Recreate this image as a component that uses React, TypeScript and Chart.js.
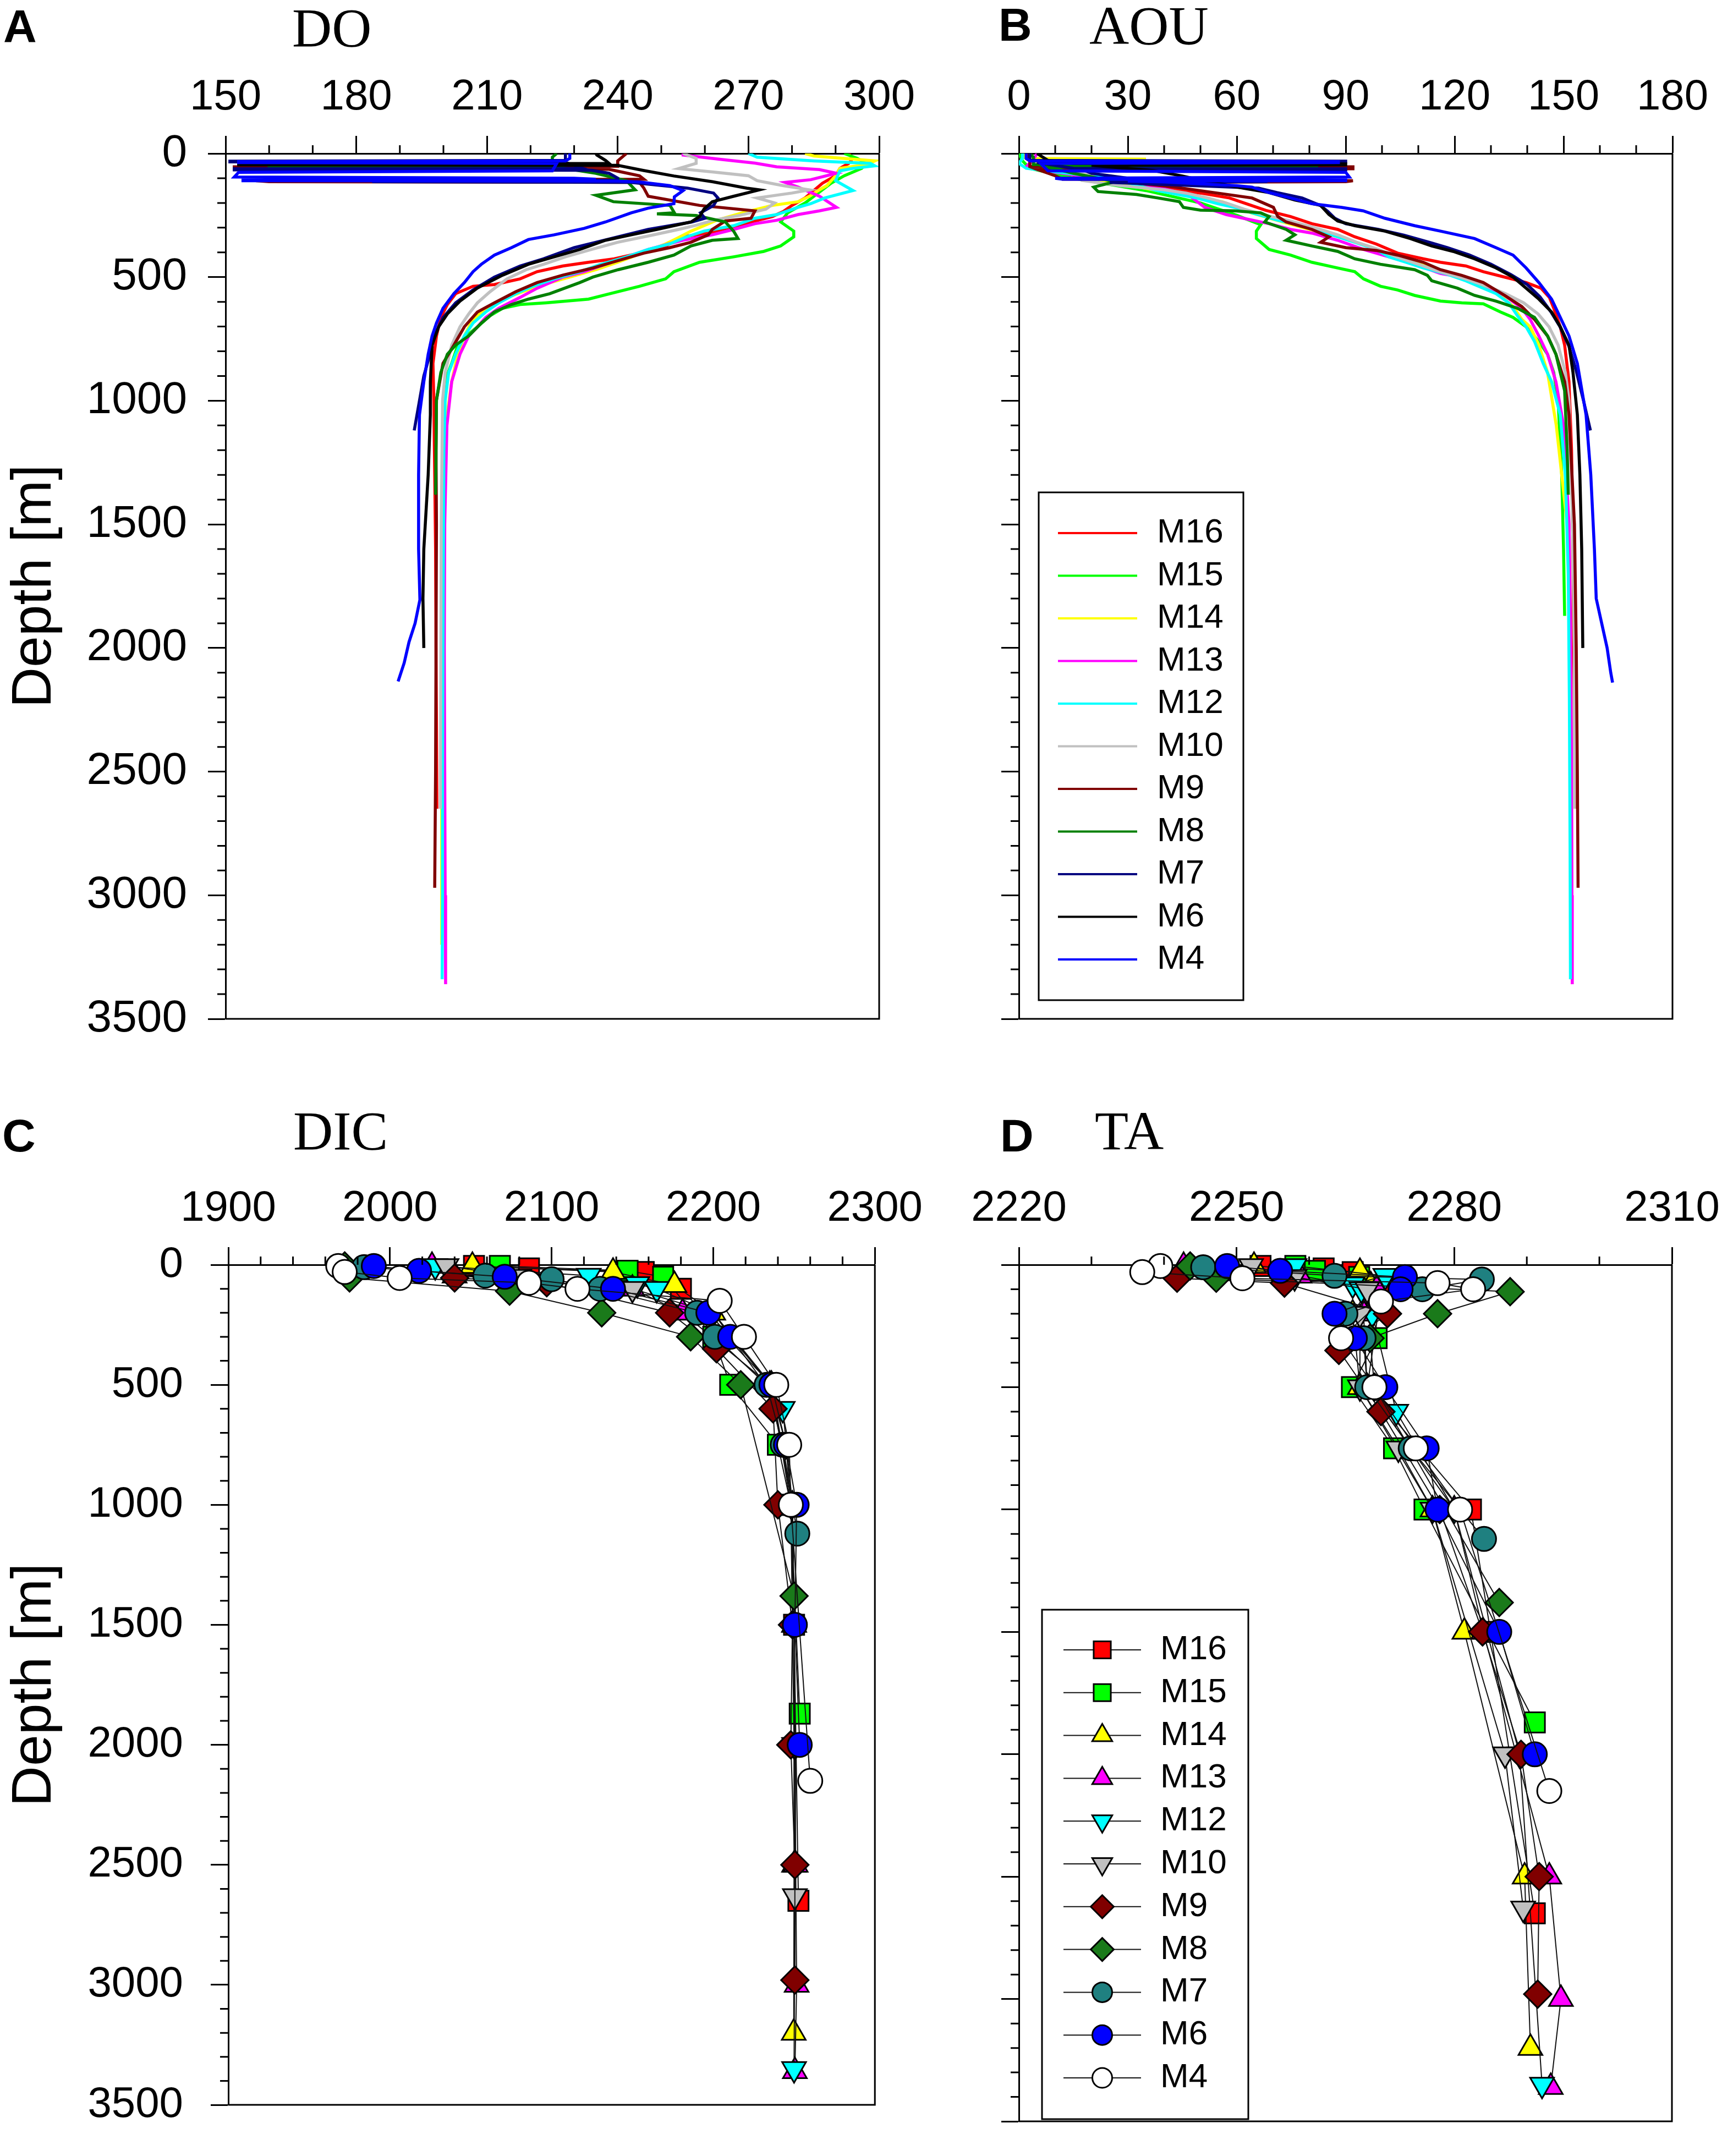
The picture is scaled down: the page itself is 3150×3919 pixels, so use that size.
import { useEffect, useRef } from "react";
import { Chart, registerables } from "chart.js";
import { drawPoint } from "chart.js/helpers";

Chart.register(...registerables);

type Pair = [number, number];

const SANS = '"Liberation Sans", Arial, Helvetica, sans-serif';
const SERIF = '"Liberation Serif", "Times New Roman", serif';

Chart.defaults.font.family = SANS;
Chart.defaults.color = "#000";

const stations = ["M16", "M15", "M14", "M13", "M12", "M10", "M9", "M8", "M7", "M6", "M4"];

// axis ranges
const depthRange = { min: 0, max: 3500, step: 500, minor: 100 };
const doRange = { min: 150, max: 300, step: 30, minor: 10 };
const aouRange = { min: 0, max: 180, step: 30, minor: 10 };
const dicRange = { min: 1900, max: 2300, step: 100, minor: 20 };
const taRange = { min: 2220, max: 2310, step: 30, minor: 10 };

// DO profiles: [depth (m), DO]
const doM16: Pair[] = [[0, 293], [20, 294], [40, 293], [60, 291], [90, 290], [120, 287], [150, 285], [180, 283], [210, 280], [235, 278], [255, 275.5], [277, 270.6], [299, 265.7], [322, 260.8], [337, 254.9], [374, 251], [403, 245], [426, 239.2], [440, 233.3], [455, 227.4], [478, 221.5], [507, 217.6], [530, 211.7], [537, 206.8], [567, 202.8], [611, 200.9], [663, 199.4], [738, 198.4], [849, 197.6], [1000, 197.8], [1300, 198], [1600, 198.2], [2000, 198.3], [2300, 198.4], [2650, 198.5]];
const doM15: Pair[] = [[0, 292], [20, 295], [40, 297], [60, 296], [90, 292], [120, 289], [160, 286], [200, 283], [240, 279], [277, 277.4], [314, 280.4], [337, 280.4], [374, 277.4], [396, 273.5], [418, 266.6], [440, 258.8], [478, 252.9], [507, 251], [537, 245], [567, 238.2], [589, 233.3], [604, 223.5], [611, 217.6], [626, 213.6], [656, 210.7], [701, 207.8], [745, 204.8], [775, 203.3], [849, 201.9], [894, 200.9], [1000, 200.3], [1200, 199.9], [1500, 199.7], [1870, 199.6]];
const doM14: Pair[] = [[0, 283], [10, 285], [20, 292], [30, 299], [45, 297], [60, 291], [90, 290], [130, 288], [150, 286], [173, 284], [195, 281.4], [210, 275.5], [240, 268.6], [270, 262.7], [292, 259.8], [314, 256.8], [340, 254], [366, 251], [400, 246], [440, 240], [470, 235], [500, 229], [530, 223], [560, 218], [590, 213.6], [630, 209.7], [670, 206.8], [738, 204.8], [812, 203.3], [923, 201.9], [1100, 200.5], [1500, 200], [2000, 199.8], [2500, 199.6], [3200, 199.6]];
const doM13: Pair[] = [[0, 255], [6, 255], [24, 263.7], [39, 271.5], [54, 276.5], [65, 286.3], [80, 290.2], [106, 284.3], [117, 278.4], [136, 281.4], [173, 286.3], [218, 290.2], [232, 286.3], [247, 281.4], [270, 276.5], [284, 271.5], [307, 266.6], [329, 261.7], [351, 254.9], [388, 247], [418, 242.1], [448, 237.2], [478, 232.3], [500, 227.4], [545, 221.5], [582, 217.6], [626, 212.7], [663, 209.7], [701, 207.8], [738, 205.8], [812, 203.8], [923, 201.9], [1100, 200.8], [1500, 200.3], [2000, 200.2], [2500, 200.3], [3000, 200.4], [3360, 200.5]];
const doM12: Pair[] = [[0, 270], [15, 272], [30, 285], [40, 298], [50, 299], [60, 294], [70, 291], [110, 290], [150, 294], [180, 287.5], [203, 284.3], [218, 281.4], [247, 276.5], [262, 271.5], [292, 266.6], [314, 259.8], [337, 255.8], [366, 251.9], [388, 247], [418, 242.1], [448, 236.2], [478, 231.3], [507, 225.4], [537, 220.5], [567, 216.6], [604, 212.7], [641, 209.7], [686, 206.8], [738, 204.8], [812, 202.8], [886, 201.2], [998, 200.4], [1200, 200.1], [1600, 200], [2000, 199.9], [2500, 199.8], [3000, 199.8], [3340, 199.7]];
const doM10: Pair[] = [[0, 255], [20, 258], [40, 258], [61, 254], [75, 262], [90, 270], [110, 272], [130, 278], [147, 284], [160, 280], [180, 272], [200, 276], [225, 274], [250, 268], [270, 262], [290, 258], [307, 254], [330, 248], [359, 240], [388, 234], [418, 228], [448, 223], [470, 219], [507, 214.6], [559, 210.7], [604, 207.8], [649, 205.8], [701, 203.8], [775, 201.9], [886, 200.4], [1000, 199.8], [1500, 199.5], [2000, 199.4], [2650, 199.3]];
const doM9: Pair[] = [[0, 242], [30, 240], [52, 240], [54, 152], [62, 152], [64, 238], [90, 245], [104, 246], [106, 190], [110, 157], [114, 160], [117, 245], [140, 246], [173, 247], [210, 258.8], [232, 271.5], [262, 270.6], [273, 264.7], [307, 261.7], [329, 260.8], [359, 256.8], [381, 251.9], [403, 246], [433, 240.1], [463, 234.3], [492, 227.4], [522, 221.5], [559, 216.6], [604, 211.7], [641, 207.8], [701, 204.8], [775, 202.4], [849, 199.9], [998, 198.4], [1200, 198.3], [1500, 198.4], [2000, 198.3], [2500, 198.2], [2970, 198]];
const doM8: Pair[] = [[0, 226], [15, 225], [45, 225], [48, 160], [52, 160], [55, 226], [80, 235], [110, 242], [147, 244], [169, 235], [195, 239], [210, 252], [240, 253], [244, 249], [251, 258], [277, 264.7], [314, 266.6], [344, 267.6], [351, 261.7], [374, 256.8], [411, 252.9], [440, 247], [470, 240.1], [500, 234.3], [522, 231.3], [567, 224.4], [589, 219.5], [611, 215.6], [641, 211.7], [686, 208.7], [738, 205.8], [775, 202.8], [812, 200.9], [886, 199.4], [998, 198.4], [1200, 198.3], [1380, 198.2]];
const doM7: Pair[] = [[0, 228], [28, 228], [31, 151], [34, 151], [36, 228], [60, 232], [62, 152], [66, 152], [68, 234], [80, 238], [100, 240], [108, 240], [110, 184], [114, 184], [117, 243], [140, 256], [160, 262], [180, 263], [210, 262], [240, 259], [262, 260], [277, 257], [307, 247], [333, 241], [359, 235], [381, 230], [426, 223], [455, 217.6], [500, 211.7], [552, 206.8], [604, 202.8], [664, 199.9], [738, 197.9], [812, 196.9], [900, 195.5], [1000, 194.5], [1120, 193.3]];
const doM6: Pair[] = [[0, 235], [6, 235.2], [28, 237.2], [40, 238], [42, 153], [46, 153], [48, 240], [69, 246], [91, 252.9], [114, 261.7], [140, 269.6], [147, 272.5], [173, 266.6], [195, 261.7], [225, 259.8], [255, 258.8], [277, 256.8], [307, 249], [329, 243.1], [351, 237.2], [388, 231.3], [418, 225.4], [448, 219.5], [492, 213.6], [544, 207.8], [597, 203.8], [649, 200.9], [701, 198.9], [775, 197.4], [923, 197], [1057, 197], [1300, 196.5], [1600, 195.5], [1800, 195.3], [2000, 195.5]];
const doM4: Pair[] = [[0, 229], [20, 229], [30, 228], [33, 153], [37, 153], [40, 226], [70, 225], [76, 153], [95, 152], [100, 230], [104, 235], [106, 154], [110, 154], [112, 240], [115, 245], [130, 252], [150, 255], [175, 253], [203, 252.9], [221, 247], [240, 243.1], [277, 237.2], [303, 232.3], [329, 225.4], [348, 219.5], [381, 215.6], [411, 211.7], [448, 208.7], [478, 206.8], [522, 204.8], [567, 202.4], [626, 199.9], [686, 198.4], [738, 197.4], [812, 196.5], [923, 195.5], [1057, 194.5], [1300, 194.3], [1600, 194.3], [1805, 194.6], [1900, 193.5], [1976, 192.1], [2060, 191], [2135, 189.6]];

// AOU profiles: [depth (m), AOU]
const aouM16: Pair[] = [[0, 1], [20, 2], [50, 5], [80, 12], [110, 25], [140, 40], [160, 50], [180, 58], [210, 64], [230, 68], [255, 74.8], [284, 80.7], [307, 87.8], [337, 92.5], [366, 98.4], [403, 104.3], [426, 111.4], [440, 116.1], [455, 123.1], [478, 127.9], [500, 133.8], [522, 139.7], [545, 143.8], [582, 146.1], [626, 147.3], [701, 149.1], [775, 150.3], [923, 151.5], [1200, 152.2], [1600, 152.6], [2000, 152.8], [2300, 153], [2650, 153.2]];
const aouM15: Pair[] = [[0, 0], [30, 1], [60, 3], [100, 15], [150, 35], [200, 50], [250, 60], [288, 66.6], [314, 65.4], [344, 65.4], [388, 68.9], [411, 74.8], [440, 80.7], [463, 87.8], [478, 92.5], [507, 94.9], [537, 99.6], [552, 104.3], [574, 109], [597, 116.1], [604, 122], [608, 127.9], [641, 132.6], [663, 136.1], [701, 139.7], [760, 143.2], [812, 145.6], [886, 147.3], [1000, 148.5], [1300, 149.5], [1600, 150], [1870, 150.3]];
const aouM14: Pair[] = [[0, 1], [20, 2], [23, 35], [26, 3], [60, 8], [100, 20], [150, 38], [195, 56], [240, 64], [270, 71], [307, 80], [337, 87.8], [374, 96], [418, 104.3], [463, 113.7], [507, 123.1], [537, 127.9], [574, 132.6], [619, 136.1], [671, 138.5], [701, 140.8], [775, 143.2], [886, 145.6], [1100, 148], [1500, 151], [2000, 152], [2500, 152.2], [3200, 152.3]];
const aouM13: Pair[] = [[0, 5], [24, 4], [39, 3], [54, 2], [65, 5], [80, 12], [106, 25], [136, 38], [166, 46.5], [218, 51.2], [247, 57.1], [262, 61.8], [284, 68.9], [307, 74.8], [322, 80.7], [351, 87.8], [388, 94.9], [418, 101.9], [448, 109], [485, 116.1], [500, 122], [530, 127.9], [574, 133.8], [626, 138.5], [671, 140.8], [738, 143.2], [812, 145.6], [923, 147.9], [1100, 150], [1500, 151.5], [2000, 152], [2500, 152.2], [3000, 152.3], [3360, 152.4]];
const aouM12: Pair[] = [[0, 1], [20, 1], [40, 0], [60, 2], [70, 8], [100, 25], [150, 38], [180, 48.9], [203, 54.8], [218, 59.5], [240, 64.2], [270, 71.3], [292, 78.3], [314, 83.1], [337, 87.8], [359, 92.5], [388, 98.4], [418, 101.9], [440, 106.6], [463, 111.4], [485, 117.3], [515, 123.1], [545, 127.9], [567, 131.4], [604, 134.9], [656, 137.3], [701, 139.7], [760, 142], [849, 144.4], [923, 146.7], [1057, 149.1], [1300, 150.5], [1700, 151.3], [2200, 151.6], [2800, 151.8], [3340, 151.9]];
const aouM10: Pair[] = [[0, 3], [20, 4], [40, 4], [61, 8], [75, 15], [90, 20], [110, 18], [130, 28], [147, 40], [160, 46], [180, 52], [200, 57], [225, 62], [250, 68], [270, 74], [290, 79], [307, 83], [330, 88], [359, 93], [388, 99], [418, 104], [448, 110], [478, 116], [507, 123], [537, 129], [567, 134], [604, 139], [649, 143], [701, 146], [775, 148.5], [886, 150.5], [1000, 151.5], [1500, 152.5], [2000, 153], [2650, 153]];
const aouM9: Pair[] = [[0, 2], [30, 3], [52, 3], [54, 92], [62, 92], [64, 5], [90, 10], [104, 12], [106, 60], [110, 92], [114, 90], [117, 30], [136, 43], [180, 64.2], [218, 70.1], [255, 71.3], [277, 73.6], [307, 80.7], [337, 85.4], [359, 83.1], [381, 90.1], [392, 98.4], [411, 104.3], [440, 111.4], [470, 116.1], [493, 122], [522, 127.9], [574, 133.8], [619, 138.5], [671, 142], [738, 145.6], [812, 147.9], [923, 150.3], [1057, 151.5], [1500, 153], [2000, 153.5], [2500, 153.8], [2970, 154]];
const aouM8: Pair[] = [[0, 3], [15, 4], [45, 4], [48, 82], [52, 82], [55, 8], [80, 15], [100, 22], [114, 26.5], [136, 20.6], [154, 21.8], [166, 32.4], [180, 38.3], [195, 44.2], [218, 45.3], [229, 50], [232, 59.5], [240, 66.6], [255, 68.9], [277, 67.7], [307, 73.6], [329, 76], [351, 73.6], [374, 80.7], [396, 87.8], [426, 92.5], [448, 99.6], [470, 109], [493, 112.5], [515, 113.7], [545, 120.8], [574, 125.5], [597, 131.4], [626, 137.3], [663, 142], [738, 145.6], [812, 147.9], [960, 150.3], [1200, 151], [1380, 151.3]];
const aouM7: Pair[] = [[0, 3], [28, 3], [31, 90], [34, 90], [36, 5], [60, 15], [62, 90], [66, 90], [68, 18], [80, 20], [100, 30], [108, 32], [110, 68], [114, 68], [117, 25], [140, 66], [158, 71], [180, 78], [210, 83], [233, 85], [262, 87], [284, 90], [307, 99], [330, 106], [359, 113], [381, 118], [410, 124], [448, 130], [490, 135.5], [530, 140], [580, 143.5], [640, 146.5], [700, 149], [780, 151.5], [880, 153.5], [1000, 155.5], [1120, 157.4]];
const aouM6: Pair[] = [[0, 5], [28, 8], [40, 15], [42, 90], [46, 90], [48, 20], [69, 37], [91, 45], [114, 52], [140, 61.8], [158, 68.9], [188, 76], [210, 83.1], [247, 85.4], [273, 87.8], [292, 92.5], [314, 100.8], [344, 107.8], [374, 113.7], [396, 119.6], [426, 125.5], [463, 131.4], [500, 136.1], [545, 139.7], [589, 143.2], [641, 146.7], [701, 149.1], [775, 151.5], [886, 152.6], [1057, 153.8], [1300, 154.5], [1600, 155], [2000, 155.3]];
const aouM4: Pair[] = [[0, 2], [20, 2], [30, 3], [33, 88], [37, 88], [40, 6], [70, 8], [76, 90], [95, 91], [100, 10], [104, 12], [106, 90], [110, 90], [112, 30], [115, 40], [130, 60], [136, 64.2], [158, 68.9], [180, 74.8], [203, 80.7], [218, 88.9], [232, 94.8], [262, 100.8], [292, 109], [314, 116.1], [344, 125.5], [381, 131.4], [411, 136.1], [463, 139.7], [522, 143.2], [589, 146.7], [663, 149.1], [738, 151.5], [849, 153.8], [1057, 156.2], [1300, 157.5], [1600, 158.5], [1800, 159], [1900, 160.5], [2000, 162], [2100, 163], [2140, 163.5]];

// bottle samples: depth (m), DIC, TA
const depthM16 = [5, 15, 30, 100, 500, 1000, 1500, 2650];
const dicM16 = [2052, 2086, 2157, 2180, 2236, 2249, 2250, 2252.7];
const taM16 = [2253.3, 2262, 2266, 2270, 2268, 2282.3, 2285, 2291.1];
const depthM15 = [5, 25, 50, 300, 500, 750, 1000, 1870];
const dicM15 = [2068, 2147, 2169, 2200, 2210.5, 2240, 2248, 2253.5];
const taM15 = [2258.1, 2260.8, 2266.9, 2269.3, 2265.9, 2271.7, 2275.9, 2291.1];
const depthM14 = [5, 30, 85, 200, 500, 1000, 1500, 2500, 3200];
const dicM14 = [2051, 2138, 2176, 2200, 2236, 2248, 2250, 2250, 2249.8];
const taM14 = [2252.4, 2267, 2268.5, 2266, 2267, 2277, 2281.4, 2289.7, 2290.5];
const depthM13 = [5, 45, 100, 200, 500, 1000, 1500, 2500, 3000, 3360];
const dicM13 = [2026, 2040, 2150, 2181, 2235, 2249, 2250, 2251, 2251.6, 2250.5];
const taM13 = [2242.7, 2258.7, 2269.3, 2267.5, 2268, 2280, 2284, 2293.1, 2294.7, 2293.3];
const depthM12 = [5, 45, 80, 100, 200, 600, 1000, 2000, 3350];
const dicM12 = [2028, 2123, 2153, 2165, 2200, 2243, 2249, 2251, 2250];
const taM12 = [2258, 2270.5, 2266, 2267.2, 2268.7, 2272, 2280, 2289, 2292.1];
const depthM10 = [5, 50, 100, 200, 500, 750, 1000, 2000, 2630];
const dicM10 = [2035, 2080, 2150, 2200, 2235, 2245, 2248, 2250, 2250.5];
const taM10 = [2252, 2258, 2268, 2267, 2267, 2272.3, 2277, 2287, 2289.5];
const depthM9 = [55, 75, 200, 350, 600, 1000, 1500, 2000, 2500, 2980];
const dicM9 = [2040, 2097, 2173, 2202, 2237, 2240, 2249, 2248, 2250.5, 2250.5];
const taM9 = [2241.8, 2256.6, 2270.8, 2264.1, 2269.9, 2278, 2283.9, 2289.2, 2291.7, 2291.5];
const depthM8 = [5, 55, 110, 200, 300, 500, 1380];
const dicM8 = [1972, 1975, 2074, 2131, 2186, 2217, 2250];
const taM8 = [2243.6, 2247.2, 2287.7, 2277.7, 2268.4, 2269, 2286.2];
const depthM7 = [10, 45, 60, 100, 200, 300, 500, 750, 1120];
const dicM7 = [1984, 2059, 2100, 2130, 2190, 2201, 2233, 2243, 2252];
const taM7 = [2245.4, 2263.5, 2283.8, 2275.6, 2265, 2267.5, 2268, 2274, 2284.1];
const depthM6 = [5, 25, 50, 100, 200, 300, 500, 750, 1000, 1500, 2000];
const dicM6 = [1990, 2018, 2071, 2138, 2197, 2210.5, 2236, 2245, 2251.6, 2250.5, 2253.5];
const taM6 = [2248.7, 2256, 2273.2, 2272.6, 2263.5, 2266.3, 2270.5, 2276.2, 2277.7, 2286.2, 2291.1];
const depthM4 = [5, 30, 55, 75, 100, 150, 300, 500, 750, 1000, 2150];
const dicM4 = [1968, 1972, 2006, 2086, 2116, 2204, 2219, 2239, 2247, 2248, 2260];
const taM4 = [2239.5, 2237, 2250.8, 2277.7, 2282.6, 2269.9, 2264.4, 2269, 2274.7, 2280.8, 2293.1];

const doProfiles = [doM16, doM15, doM14, doM13, doM12, doM10, doM9, doM8, doM7, doM6, doM4];
const aouProfiles = [aouM16, aouM15, aouM14, aouM13, aouM12, aouM10, aouM9, aouM8, aouM7, aouM6, aouM4];
const bottleDepths = [depthM16, depthM15, depthM14, depthM13, depthM12, depthM10, depthM9, depthM8, depthM7, depthM6, depthM4];
const dicValues = [dicM16, dicM15, dicM14, dicM13, dicM12, dicM10, dicM9, dicM8, dicM7, dicM6, dicM4];
const taValues = [taM16, taM15, taM14, taM13, taM12, taM10, taM9, taM8, taM7, taM6, taM4];

// styles
const lineColors = ["#ff0000", "#00ff00", "#ffff00", "#ff00ff", "#00ffff", "#c0c0c0", "#800000", "#008000", "#000080", "#000000", "#0000ff"];
const markerFills = ["#ff0000", "#00ff00", "#ffff00", "#ff00ff", "#00ffff", "#c0c0c0", "#800000", "#1a7a1a", "#1f8080", "#0000ff", "#ffffff"];
const markerStyles = ["rect", "rect", "triangle", "triangle", "triangle", "triangle", "rectRot", "rectRot", "circle", "circle", "circle"];
const markerRotations = [0, 0, 0, 0, 180, 180, 0, 0, 0, 0, 0];
const markerRadii = [26, 26, 25, 25, 25, 25, 25, 25, 22, 22, 22];

function profileSets(profiles: Pair[][]) {
  return stations.map((name, i) => ({
    label: name,
    data: profiles[i].map(([d, v]) => ({ x: v, y: d })),
    showLine: true,
    borderColor: lineColors[i],
    backgroundColor: lineColors[i],
    borderWidth: 5.5,
    pointRadius: 0,
    order: stations.length - i,
  }));
}

function bottleSets(values: number[][]) {
  return stations.map((name, i) => ({
    label: name,
    data: bottleDepths[i].map((d, k) => ({ x: values[i][k], y: d })),
    showLine: true,
    borderColor: "#111",
    borderWidth: 2,
    pointStyle: markerStyles[i],
    rotation: markerRotations[i],
    pointRadius: markerRadii[i],
    pointBackgroundColor: markerFills[i],
    pointBorderColor: "#000",
    pointBorderWidth: 3,
    clip: false,
    order: stations.length - i,
  }));
}

function framePlugin(xMinor: number, xMajor: number) {
  return {
    id: "frame",
    afterDraw(chart: any) {
      const { ctx, chartArea: a } = chart;
      const sx = chart.scales.x;
      const sy = chart.scales.y;
      ctx.save();
      ctx.strokeStyle = "#000";
      ctx.lineWidth = 3;
      ctx.beginPath();
      ctx.moveTo(a.right, a.top);
      ctx.lineTo(a.right, a.bottom);
      ctx.lineTo(a.left, a.bottom);
      const nx = Math.round((sx.max - sx.min) / xMinor);
      for (let k = 1; k < nx; k++) {
        const off = k * xMinor;
        const r = off / xMajor;
        if (Math.abs(r - Math.round(r)) < 1e-6) continue;
        const px = sx.getPixelForValue(sx.min + off);
        ctx.moveTo(px, a.top);
        ctx.lineTo(px, a.top - 15);
      }
      const ny = Math.round((depthRange.max - depthRange.min) / depthRange.minor);
      for (let k = 1; k < ny; k++) {
        const v = k * depthRange.minor;
        if (v % depthRange.step === 0) continue;
        const py = sy.getPixelForValue(v);
        ctx.moveTo(a.left, py);
        ctx.lineTo(a.left - 15, py);
      }
      ctx.stroke();
      ctx.restore();
    },
  };
}

function legendPlugin(kind: "line" | "marker", box: number[], lineX: number[], textX: number, row0: number, gap: number) {
  return {
    id: "boxLegend",
    afterDraw(chart: any) {
      const ctx = chart.ctx;
      ctx.save();
      ctx.fillStyle = "#fff";
      ctx.fillRect(box[0], box[1], box[2] - box[0], box[3] - box[1]);
      ctx.strokeStyle = "#000";
      ctx.lineWidth = 3;
      ctx.strokeRect(box[0], box[1], box[2] - box[0], box[3] - box[1]);
      stations.forEach((name, i) => {
        const y = row0 + i * gap;
        ctx.beginPath();
        ctx.moveTo(lineX[0], y);
        ctx.lineTo(lineX[1], y);
        if (kind === "line") {
          ctx.strokeStyle = lineColors[i];
          ctx.lineWidth = 4;
          ctx.stroke();
        } else {
          ctx.strokeStyle = "#111";
          ctx.lineWidth = 2;
          ctx.stroke();
          ctx.fillStyle = markerFills[i];
          ctx.strokeStyle = "#000";
          ctx.lineWidth = 3;
          drawPoint(ctx, { pointStyle: markerStyles[i], rotation: markerRotations[i], radius: markerRadii[i] - 4, borderWidth: 3 } as any, (lineX[0] + lineX[1]) / 2, y);
        }
        ctx.fillStyle = "#000";
        ctx.font = `62px ${SANS}`;
        ctx.textBaseline = "middle";
        ctx.textAlign = "left";
        ctx.fillText(name, textX, y);
      });
      ctx.restore();
    },
  };
}

interface PanelProps {
  left: number;
  top: number;
  width: number;
  height: number;
  datasets: any[];
  range: { min: number; max: number; step: number; minor: number };
  withDepthLabels: boolean;
  yWidth: number;
  yPad: number;
  yFont: number;
  padding: { left: number; top: number; right: number; bottom: number };
  legend?: any;
}

function Panel(p: PanelProps) {
  const chartRef = useRef<HTMLCanvasElement | null>(null);

  useEffect(() => {
    const ctx = chartRef.current?.getContext("2d");
    if (!ctx) return;
    const plugins: any[] = [framePlugin(p.range.minor, p.range.step)];
    if (p.legend) plugins.push(p.legend);

    const chart = new Chart(ctx, {
      type: "scatter",
      data: { datasets: p.datasets },
      plugins,
      options: {
        responsive: false,
        animation: false,
        devicePixelRatio: 1,
        events: [],
        layout: { padding: p.padding },
        plugins: { legend: { display: false }, tooltip: { enabled: false } },
        scales: {
          x: {
            type: "linear",
            position: "top",
            min: p.range.min,
            max: p.range.max,
            ticks: {
              stepSize: p.range.step,
              autoSkip: false,
              maxRotation: 0,
              padding: 23,
              color: "#000",
              font: { size: 78, family: SANS },
              callback: (v: any) => String(v),
            },
            grid: { drawOnChartArea: false, drawTicks: true, tickLength: 32, tickWidth: 3, tickColor: "#000" },
            border: { display: true, color: "#000", width: 3 },
            afterFit: (s: any) => {
              s.height = 150;
            },
          },
          y: {
            type: "linear",
            reverse: true,
            min: depthRange.min,
            max: depthRange.max,
            ticks: {
              stepSize: depthRange.step,
              autoSkip: false,
              padding: p.yPad,
              color: "#000",
              font: { size: p.yFont, family: SANS, lineHeight: 1.1 },
              callback: (v: any) => (p.withDepthLabels ? String(v) : ""),
            },
            title: {
              display: p.withDepthLabels,
              text: "Depth [m]",
              color: "#000",
              font: { size: 102, family: SANS },
              padding: { top: 3, bottom: 0 },
            },
            grid: { drawOnChartArea: false, drawTicks: true, tickLength: 32, tickWidth: 3, tickColor: "#000" },
            border: { display: true, color: "#000", width: 3 },
            afterFit: (s: any) => {
              s.width = p.yWidth;
            },
          },
        },
      } as any,
    });

    return () => chart.destroy();
  }, []);

  return (
    <canvas
      ref={chartRef}
      width={p.width}
      height={p.height}
      style={{ position: "absolute", left: p.left, top: p.top, width: p.width, height: p.height }}
    />
  );
}

const letterStyle = (left: number, top: number) => ({
  position: "absolute" as const,
  left,
  top,
  fontFamily: SANS,
  fontWeight: 700,
  fontSize: 84,
  lineHeight: 1,
  color: "#000",
  whiteSpace: "nowrap" as const,
});

const titleStyle = (left: number, top: number) => ({
  position: "absolute" as const,
  left,
  top,
  fontFamily: SERIF,
  fontSize: 100,
  lineHeight: 1,
  color: "#000",
  whiteSpace: "nowrap" as const,
});

export default function App() {
  return (
    <div style={{ position: "absolute", left: 0, top: 0, width: 3150, height: 3919, background: "#fff", overflow: "hidden" }}>
      <Panel
        left={0}
        top={0}
        width={1700}
        height={1960}
        datasets={profileSets(doProfiles)}
        range={doRange}
        withDepthLabels={true}
        yWidth={410}
        yPad={38}
        yFont={82}
        padding={{ left: 0, top: 129, right: 102, bottom: 108 }}
      />
      <Panel
        left={1640}
        top={0}
        width={1510}
        height={1960}
        datasets={profileSets(aouProfiles)}
        range={aouRange}
        withDepthLabels={false}
        yWidth={100}
        yPad={20}
        yFont={78}
        padding={{ left: 112, top: 129, right: 110, bottom: 108 }}
        legend={legendPlugin("line", [248, 895, 620, 1818], [283, 427], 463, 969, 77.5)}
      />
      <Panel
        left={0}
        top={1960}
        width={1700}
        height={1959}
        datasets={bottleSets(dicValues)}
        range={dicRange}
        withDepthLabels={true}
        yWidth={415}
        yPad={50}
        yFont={78}
        padding={{ left: 0, top: 189, right: 98, bottom: 46 }}
      />
      <Panel
        left={1640}
        top={1960}
        width={1510}
        height={1959}
        datasets={bottleSets(taValues)}
        range={taRange}
        withDepthLabels={false}
        yWidth={100}
        yPad={20}
        yFont={78}
        padding={{ left: 112, top: 189, right: 111, bottom: 46 }}
        legend={legendPlugin("marker", [254, 966, 629, 1892], [293, 434], 469, 1039, 77.8)}
      />
      <div style={letterStyle(6, 6)}>A</div>
      <div style={letterStyle(1815, 3)}>B</div>
      <div style={letterStyle(4, 2022)}>C</div>
      <div style={letterStyle(1818, 2022)}>D</div>
      <div style={titleStyle(531, 1)}>DO</div>
      <div style={titleStyle(1980, -3)}>AOU</div>
      <div style={titleStyle(533, 2006)}>DIC</div>
      <div style={titleStyle(1990, 2006)}>TA</div>
    </div>
  );
}
